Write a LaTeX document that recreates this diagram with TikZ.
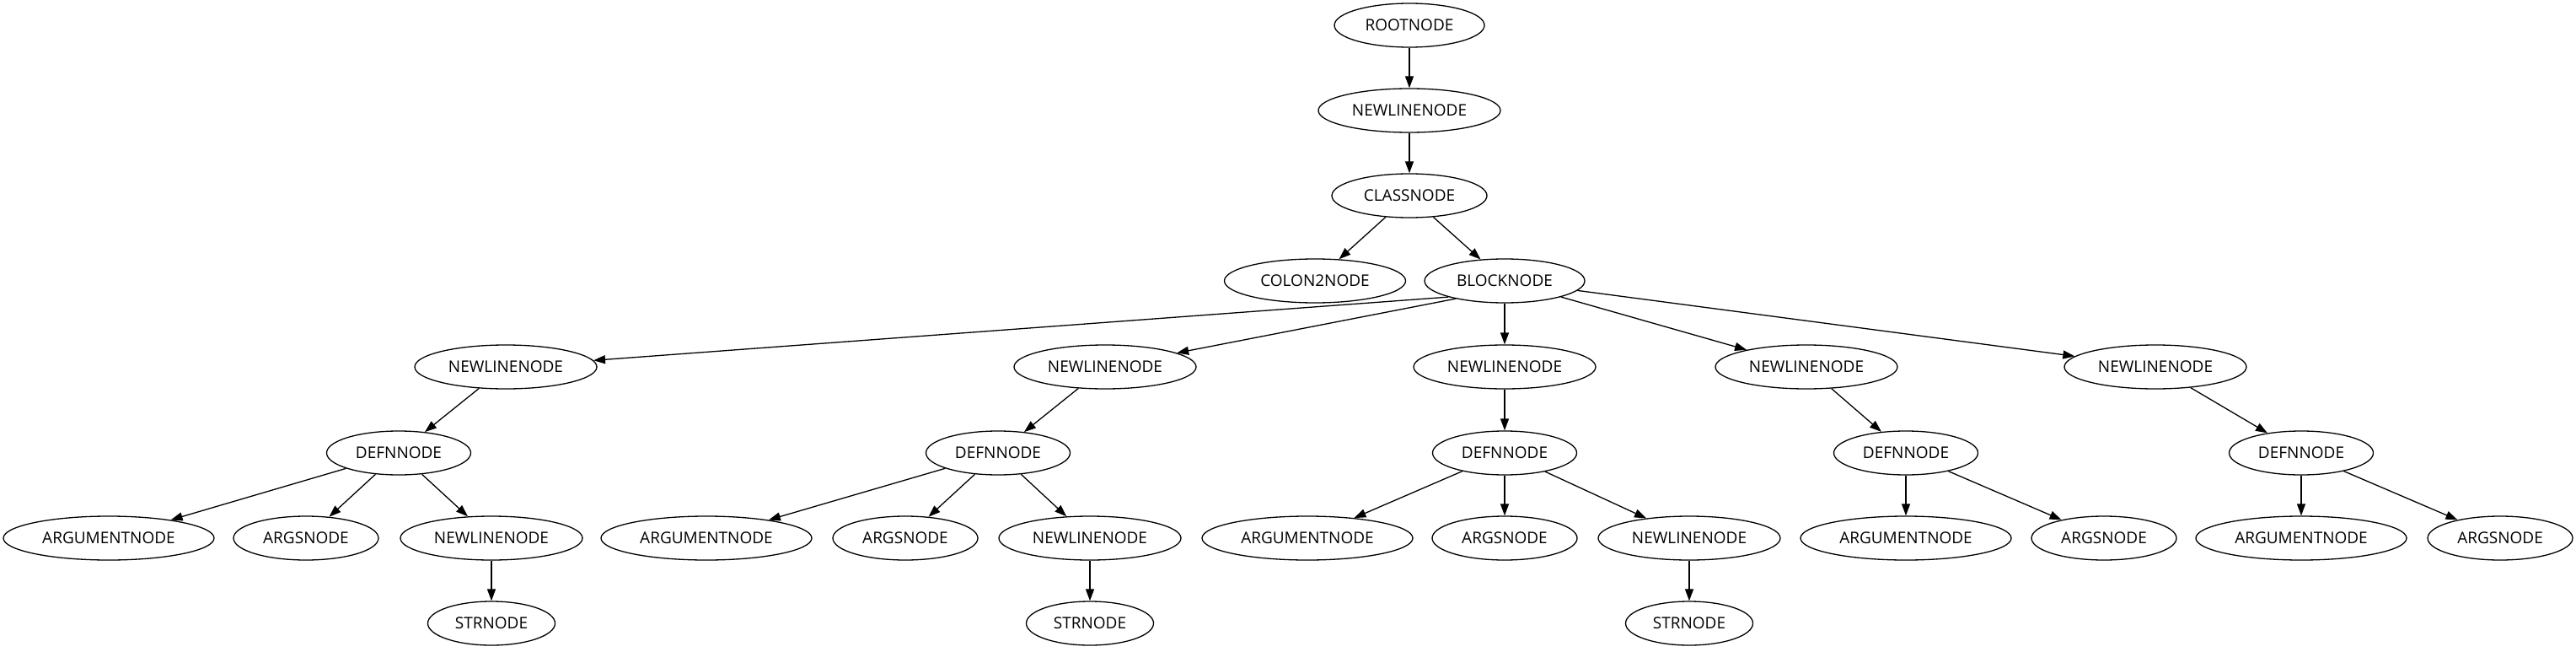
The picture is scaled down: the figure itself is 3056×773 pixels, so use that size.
\documentclass[tikz,border=0pt]{standalone}
\usepackage{fontspec}
\setmainfont{Open Sans}
\usetikzlibrary{shapes.geometric,arrows.meta}

\tikzset{
  astnode/.style={draw, ellipse, line width=1.3pt, inner sep=0pt,
    minimum height=52pt, minimum width=#1,
    font=\fontsize{19pt}{22pt}\selectfont},
  astedge/.style={-{Triangle[length=14pt,width=10pt]}, line width=1.3pt},
}

\begin{document}
\begin{tikzpicture}[x=1pt,y=1pt,yscale=-1,xscale=1]
\useasboundingbox (0,0) rectangle (3056,773);

% Top chain
\node[astnode=178] (root)  at (1672,30)  {ROOTNODE};
\node[astnode=216] (nl)    at (1672,131) {NEWLINENODE};
\node[astnode=184] (class) at (1672,232) {CLASSNODE};
\node[astnode=215] (colon) at (1560,333) {COLON2NODE};
\node[astnode=190] (block) at (1785,333) {BLOCKNODE};

% Subtree A
\node[astnode=216] (nlA)   at (600,435)  {NEWLINENODE};
\node[astnode=171] (defA)  at (473,537)  {DEFNNODE};
\node[astnode=250] (argA)  at (129,638)  {ARGUMENTNODE};
\node[astnode=172] (argsA) at (363,638)  {ARGSNODE};
\node[astnode=216] (nlA2)  at (583,638)  {NEWLINENODE};
\node[astnode=151] (strA)  at (583,739)  {STRNODE};

% Subtree B
\node[astnode=216] (nlB)   at (1311,435) {NEWLINENODE};
\node[astnode=171] (defB)  at (1184,537) {DEFNNODE};
\node[astnode=250] (argB)  at (838,638)  {ARGUMENTNODE};
\node[astnode=172] (argsB) at (1074,638) {ARGSNODE};
\node[astnode=216] (nlB2)  at (1293,638) {NEWLINENODE};
\node[astnode=151] (strB)  at (1293,739) {STRNODE};

% Subtree C
\node[astnode=216] (nlC)   at (1785,435) {NEWLINENODE};
\node[astnode=171] (defC)  at (1785,537) {DEFNNODE};
\node[astnode=250] (argC)  at (1551,638) {ARGUMENTNODE};
\node[astnode=172] (argsC) at (1785,638) {ARGSNODE};
\node[astnode=216] (nlC2)  at (2004,638) {NEWLINENODE};
\node[astnode=151] (strC)  at (2004,739) {STRNODE};

% Subtree D
\node[astnode=216] (nlD)   at (2143,435) {NEWLINENODE};
\node[astnode=171] (defD)  at (2261,537) {DEFNNODE};
\node[astnode=250] (argD)  at (2261,638) {ARGUMENTNODE};
\node[astnode=172] (argsD) at (2496,638) {ARGSNODE};

% Subtree E
\node[astnode=216] (nlE)   at (2557,435) {NEWLINENODE};
\node[astnode=171] (defE)  at (2730,537) {DEFNNODE};
\node[astnode=250] (argE)  at (2730,638) {ARGUMENTNODE};
\node[astnode=172] (argsE) at (2966,638) {ARGSNODE};

% Edges
\draw[astedge] (root) -- (nl);
\draw[astedge] (nl) -- (class);
\draw[astedge] (class) -- (colon);
\draw[astedge] (class) -- (block);
\draw[astedge] (block.196) -- (nlA);
\draw[astedge] (block.200) -- (nlB);
\foreach \t in {nlC,nlD,nlE}
  \draw[astedge] (block) -- (\t);
\foreach \s in {A,B,C,D,E}
  \draw[astedge] (nl\s) -- (def\s);
\foreach \s in {A,B,C,D,E}{
  \draw[astedge] (def\s) -- (arg\s);
  \draw[astedge] (def\s) -- (args\s);
}
\foreach \s in {A,B,C}{
  \draw[astedge] (def\s) -- (nl\s2);
  \draw[astedge] (nl\s2) -- (str\s);
}

\end{tikzpicture}
\end{document}
